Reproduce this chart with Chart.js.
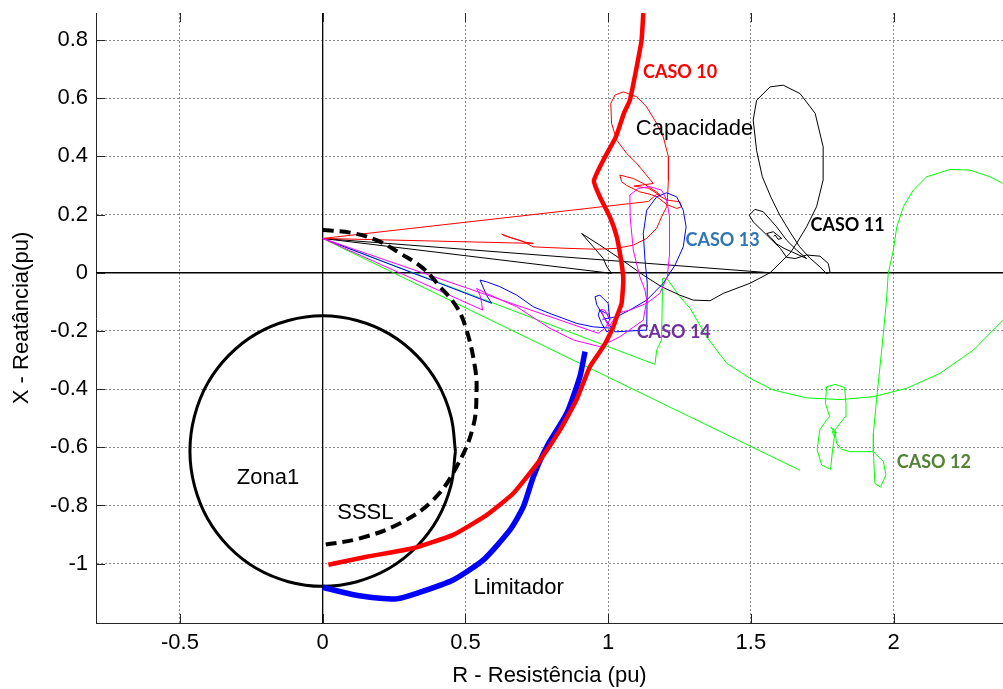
<!DOCTYPE html>
<html>
<head>
<meta charset="utf-8">
<script src="https://cdn.jsdelivr.net/npm/chart.js@4.4.0/dist/chart.umd.min.js"></script>
<style>
  body { margin: 0; background: #fff; }
  canvas { display: block; }
</style>
</head>
<body>
<canvas id="impedancePlot" width="1003" height="689"></canvas>
<script>
// axis ticks
const xTicks = [-0.5, 0, 0.5, 1, 1.5, 2];
const yTicks = [-1, -0.8, -0.6, -0.4, -0.2, 0, 0.2, 0.4, 0.6, 0.8];

// reference lines through the origin
const axisH = [[-0.794, 0], [2.383, 0]];
const axisV = [[0, -1.204], [0, 0.893]];

// Zona1 mho circle
const zona1 = [[0.465,-0.613],[0.449,-0.493],[0.403,-0.380],[0.329,-0.284],[0.233,-0.210],[0.120,-0.164],
  [0,-0.148],[-0.120,-0.164],[-0.233,-0.210],[-0.329,-0.284],[-0.403,-0.380],[-0.449,-0.493],
  [-0.465,-0.613],[-0.449,-0.733],[-0.403,-0.846],[-0.329,-0.942],[-0.233,-1.016],[-0.120,-1.062],
  [0,-1.078],[0.120,-1.062],[0.233,-1.016],[0.329,-0.942],[0.403,-0.846],[0.449,-0.733],[0.465,-0.613]];

// SSSL (dashed)
const sssl = [[0,0.147],[0.096,0.138],[0.189,0.112],[0.271,0.067],[0.352,0.015],[0.411,-0.048],[0.469,-0.117],
  [0.504,-0.197],[0.533,-0.322],[0.539,-0.403],[0.527,-0.529],[0.469,-0.667],[0.387,-0.781],
  [0.271,-0.861],[0.130,-0.913],[0,-0.936]];

// Limitador (thick blue)
const limitador = [[0,-1.081],[0.10,-1.105],[0.201,-1.119],[0.259,-1.121],[0.329,-1.102],[0.457,-1.056],
  [0.563,-0.987],[0.656,-0.884],[0.703,-0.804],[0.738,-0.701],[0.785,-0.598],[0.855,-0.483],
  [0.901,-0.357],[0.919,-0.271]];

// Capacidade (thick red)
const capacidade = [[0.02,-1.004],[0.154,-0.976],[0.317,-0.947],[0.457,-0.901],[0.574,-0.833],[0.668,-0.758],
  [0.761,-0.644],[0.831,-0.541],[0.889,-0.437],[0.936,-0.323],[0.983,-0.254],[1.018,-0.186],
  [1.030,-0.151],[1.047,-0.105],[1.053,-0.025],[1.047,0.032],[1.030,0.124],[1.006,0.192],
  [0.971,0.261],[0.950,0.316],[0.983,0.387],[1.027,0.467],[1.055,0.548],[1.076,0.593],
  [1.100,0.708],[1.117,0.800],[1.123,0.893]];

// CASO 10 (thin red)
const caso10 = [[0,0.118],[1.141,0.245],[1.170,0.270],[1.205,0.250],[1.251,0.244],[1.257,0.227],[1.240,0.221],
  [1.205,0.235],[1.170,0.262],[1.146,0.270],[1.111,0.278],[1.065,0.300],[1.047,0.313],[1.041,0.336],
  [1.088,0.324],[1.123,0.307],[1.170,0.278],[1.181,0.267],[1.140,0.291],[1.090,0.298],[1.158,0.307],
  [1.129,0.342],[1.100,0.376],[1.065,0.410],[1.030,0.456],[1.012,0.513],[1.009,0.582],[1.024,0.611],
  [1.053,0.622],[1.100,0.605],[1.135,0.570],[1.170,0.513],[1.193,0.467],[1.211,0.399],[1.211,0.319],
  [1.208,0.260],[1.205,0.227],[1.187,0.192],[1.170,0.153],[1.135,0.118],[1.088,0.095],[1.030,0.084],
  [0.960,0.081],[0.855,0.084],[0.738,0.089],[0.700,0.108],[0.660,0.120],[0.627,0.133],[0.635,0.128],
  [0.670,0.118],[0.710,0.105],[0.738,0.101],[0,0.118]];

// CASO 11 (thin black)
const caso11a = [[0,0.118],[1.567,0.0]];
const caso11b = [[0,0.118],[1.012,-0.002],[0.995,0.021],[0.983,0.049],[0.948,0.089],[0.907,0.135],
  [0.971,0.095],[1.041,0.049],[1.123,-0.008],[1.187,-0.048],[1.251,-0.077],[1.298,-0.094],[1.357,-0.096],
  [1.403,-0.071],[1.497,-0.036],[1.567,0.0],[1.637,0.067],[1.660,0.101],[1.695,0.158],[1.730,0.227],
  [1.753,0.319],[1.753,0.433],[1.725,0.548],[1.672,0.616],[1.613,0.645],[1.567,0.639],[1.520,0.593],
  [1.508,0.525],[1.520,0.420],[1.540,0.330],[1.570,0.260],[1.600,0.200],[1.637,0.140],[1.670,0.090],
  [1.707,0.050],[1.742,0.020],[1.765,-0.003],[1.777,0.003],[1.771,0.032],[1.742,0.057],[1.695,0.061],
  [1.655,0.049],[1.625,0.053],[1.603,0.084],[1.555,0.130],[1.508,0.175],[1.494,0.198],[1.514,0.218],
  [1.543,0.210],[1.590,0.158],[1.625,0.112],[1.660,0.078],[1.695,0.049],[1.616,0.084],[1.590,0.099],
  [1.569,0.122],[1.555,0.135],[1.578,0.141],[1.608,0.118],[1.595,0.115],[1.585,0.130],[1.580,0.125]];

// CASO 12 (thin green)
const caso12a = [[0,0.118],[1.672,-0.679]];
const caso12b = [[0,0.118],[1.164,-0.315],[1.170,-0.266],[1.187,-0.231],[1.191,-0.019],[1.205,-0.019],
  [1.251,-0.082],[1.287,-0.122],[1.345,-0.220],[1.415,-0.311],[1.497,-0.363],[1.578,-0.403],
  [1.695,-0.430],[1.812,-0.436],[1.929,-0.426],[2.046,-0.397],[2.162,-0.346],[2.279,-0.266],
  [2.383,-0.163],[2.450,-0.050],[2.470,0.150],[2.450,0.260],[2.383,0.307],[2.337,0.330],[2.267,0.353],
  [2.197,0.355],[2.116,0.330],[2.069,0.284],[2.034,0.227],[2.011,0.158],[1.999,0.078],[1.981,-0.002],
  [1.975,-0.094],[1.964,-0.208],[1.952,-0.323],[1.940,-0.437],[1.929,-0.552],[1.929,-0.615],
  [1.934,-0.724],[1.954,-0.737],[1.973,-0.695],[1.964,-0.649],[1.929,-0.615],[1.847,-0.615],
  [1.818,-0.607],[1.800,-0.586],[1.794,-0.541],[1.830,-0.495],[1.833,-0.449],[1.828,-0.394],
  [1.795,-0.384],[1.765,-0.392],[1.761,-0.449],[1.776,-0.495],[1.765,-0.506],[1.741,-0.541],
  [1.732,-0.609],[1.748,-0.661],[1.779,-0.676],[1.786,-0.609],[1.794,-0.552],[1.780,-0.530],
  [1.800,-0.550],[1.785,-0.545],[1.790,-0.560]];

// CASO 13 (thin blue)
const caso13 = [[0,0.118],[0.592,-0.105],[0.574,-0.077],[0.551,-0.025],[0.574,-0.031],[0.621,-0.048],
  [0.680,-0.077],[0.738,-0.117],[0.796,-0.140],[0.890,-0.174],[0.948,-0.186],[1.018,-0.191],[0.995,-0.203],
  [0.977,-0.174],[0.965,-0.145],[0.971,-0.128],[0.995,-0.140],[1.006,-0.163],[1.000,-0.105],[0.971,-0.077],
  [0.954,-0.082],[0.960,-0.110],[0.990,-0.160],[1.012,-0.190],[1.024,-0.203],[1.135,-0.197],[1.137,-0.036],
  [1.129,0.044],[1.123,0.135],[1.135,0.215],[1.170,0.261],[1.205,0.275],[1.240,0.261],[1.263,0.215],
  [1.273,0.158],[1.263,0.089],[1.234,0.026],[1.193,-0.036],[1.135,-0.094],[1.076,-0.128],[1.030,-0.151],
  [0.980,-0.160]];

// CASO 14 (thin magenta)
const caso14 = [[0,0.118],[0.965,-0.208],[0.990,-0.190],[1.006,-0.160],[0.990,-0.130],[0.975,-0.125],
  [0.985,-0.155],[1.003,-0.185],[1.020,-0.160],[1.030,-0.140],[1.076,-0.128],[1.135,-0.105],[1.181,-0.071],
  [1.207,-0.014],[1.214,0.055],[1.216,0.124],[1.214,0.192],[1.205,0.250],[1.187,0.284],[1.146,0.296],
  [1.105,0.290],[1.076,0.267],[1.077,0.192],[1.088,0.078],[1.111,-0.014],[1.129,-0.060],[1.135,-0.094],
  [1.123,-0.163],[1.041,-0.220],[0.971,-0.254],[0.878,-0.231],[0.796,-0.191],[0.680,-0.117],[0.574,-0.071],
  [0.539,-0.054],[0.551,-0.077],[0.557,-0.105],[0.560,-0.128],[0,0.118]];

// text annotations (data coordinates, left edge / vertical centre)
const notes = [
  { text: 'CASO 10', x: 1.122, y: 0.690, color: '#ff0000', bold: true },
  { text: 'Capacidade', x: 1.097, y: 0.494, color: '#000000', bold: false },
  { text: 'CASO 11', x: 1.709, y: 0.164, color: '#000000', bold: true },
  { text: 'CASO 13', x: 1.271, y: 0.112, color: '#2e75b6', bold: true },
  { text: 'CASO 14', x: 1.100, y: -0.203, color: '#7030a0', bold: true },
  { text: 'CASO 12', x: 2.011, y: -0.652, color: '#548235', bold: true },
  { text: 'Zona1', x: -0.301, y: -0.707, color: '#000000', bold: false },
  { text: 'SSSL', x: 0.051, y: -0.827, color: '#000000', bold: false },
  { text: 'Limitador', x: 0.528, y: -1.085, color: '#000000', bold: false }
];

const FONT = '"Liberation Sans", Arial, sans-serif';

function pts(arr) {
  return arr.map(p => ({ x: p[0], y: p[1] }));
}

function trace(arr, color, width, extra) {
  return Object.assign({
    data: pts(arr),
    borderColor: color,
    backgroundColor: color,
    borderWidth: width,
    showLine: true,
    pointRadius: 0,
    fill: false,
    tension: 0,
    borderJoinStyle: 'round'
  }, extra || {});
}

// inward MATLAB-style ticks and the text labels
const extrasPlugin = {
  id: 'extras',
  afterDatasetsDraw(chart) {
    const { ctx, chartArea, scales } = chart;
    const x = scales.x, y = scales.y;
    ctx.save();
    ctx.strokeStyle = '#262626';
    ctx.lineWidth = 1;
    ctx.beginPath();
    xTicks.forEach(v => {
      const px = Math.round(x.getPixelForValue(v)) + 0.5;
      ctx.moveTo(px, chartArea.bottom);
      ctx.lineTo(px, chartArea.bottom - 9);
      ctx.moveTo(px, chartArea.top);
      ctx.lineTo(px, chartArea.top + 9);
    });
    yTicks.forEach(v => {
      const py = Math.round(y.getPixelForValue(v)) + 0.5;
      ctx.moveTo(chartArea.left, py);
      ctx.lineTo(chartArea.left + 9, py);
    });
    ctx.stroke();

    ctx.textAlign = 'left';
    ctx.textBaseline = 'middle';
    notes.forEach(n => {
      ctx.font = n.bold ? 'bold 18px Lato, sans-serif' : '22px ' + FONT;
      ctx.fillStyle = n.color;
      ctx.fillText(n.text, x.getPixelForValue(n.x), y.getPixelForValue(n.y));
    });
    ctx.restore();
  }
};

const ctx = document.getElementById('impedancePlot').getContext('2d');
new Chart(ctx, {
  type: 'scatter',
  data: {
    datasets: [
      trace(axisH, '#000000', 1.3, { order: 9 }),
      trace(axisV, '#000000', 1.3, { order: 9 }),
      trace(caso12a, '#00ff00', 1, { order: 8 }),
      trace(caso12b, '#00ff00', 1, { order: 8 }),
      trace(caso11a, '#000000', 1, { order: 7 }),
      trace(caso11b, '#000000', 1, { order: 7 }),
      trace(caso10, '#ff0000', 1, { order: 6 }),
      trace(caso13, '#0000ff', 1, { order: 5 }),
      trace(caso14, '#ff00ff', 1, { order: 4 }),
      trace(zona1, '#000000', 3, { order: 3, tension: 0.4 }),
      trace(sssl, '#000000', 4, { order: 3, tension: 0.4, borderDash: [11, 6] }),
      trace(limitador, '#0000ff', 5.5, { order: 2, tension: 0.2 }),
      trace(capacidade, '#ff0000', 4.5, { order: 1, tension: 0.15 })
    ]
  },
  options: {
    responsive: false,
    animation: false,
    devicePixelRatio: 1,
    layout: { padding: { top: 13, left: 0, right: 0, bottom: 0 } },
    plugins: {
      legend: { display: false },
      tooltip: { enabled: false }
    },
    scales: {
      x: {
        type: 'linear',
        position: 'bottom',
        min: -0.794,
        max: 2.383,
        afterBuildTicks: s => { s.ticks = xTicks.map(v => ({ value: v })); },
        afterFit: s => { s.height = 66; s.paddingLeft = 0; s.paddingRight = 0; },
        grid: { color: '#8c8c8c', lineWidth: 1, drawTicks: false },
        border: { display: true, color: '#262626', width: 1, dash: [2, 2] },
        ticks: {
          padding: 7,
          color: '#000',
          font: { family: FONT, size: 22 },
          maxRotation: 0,
          callback: v => String(v)
        },
        title: {
          display: true,
          text: 'R - Resistência (pu)',
          color: '#000',
          font: { family: FONT, size: 22 },
          padding: { top: 0, bottom: 0 }
        }
      },
      y: {
        type: 'linear',
        position: 'left',
        min: -1.204,
        max: 0.893,
        afterBuildTicks: s => { s.ticks = yTicks.map(v => ({ value: v })); },
        afterFit: s => { s.width = 96; s.paddingTop = 0; s.paddingBottom = 0; },
        grid: { color: '#8c8c8c', lineWidth: 1, drawTicks: false },
        border: { display: true, color: '#262626', width: 1, dash: [2, 2] },
        ticks: {
          padding: 8,
          color: '#000',
          font: { family: FONT, size: 22 },
          callback: v => String(v)
        },
        title: {
          display: true,
          text: 'X - Reatância(pu)',
          color: '#000',
          font: { family: FONT, size: 22 },
          padding: { top: 9, bottom: 0 }
        }
      }
    }
  },
  plugins: [extrasPlugin]
});
</script>
</body>
</html>
